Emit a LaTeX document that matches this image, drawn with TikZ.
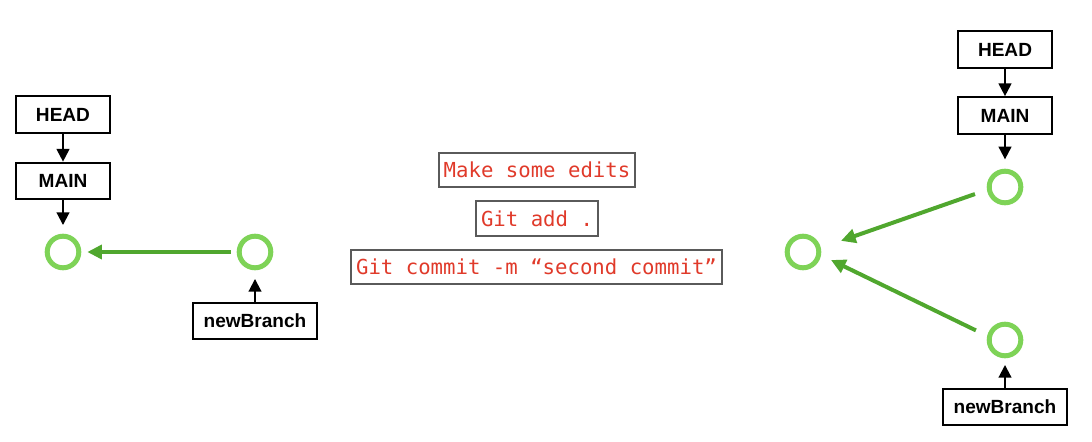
\documentclass[tikz,border=0pt]{standalone}
\usepackage{fontspec}
\usepackage{xcolor}
\usepackage{tikz}
\usetikzlibrary{arrows.meta}
\newfontfamily\labelfont{Liberation Sans}
\newfontfamily\cmdfont{DejaVu Sans Mono}
\definecolor{ringgreen}{RGB}{126,211,87}
\definecolor{linkgreen}{RGB}{80,167,46}
\definecolor{cmdred}{RGB}{224,58,42}
\definecolor{framegray}{RGB}{90,90,90}

\begin{document}
\begin{tikzpicture}[x=0.75pt,y=-0.75pt,
    ref/.style={draw,line width=1.5pt,inner sep=0pt,minimum width=70.5pt,minimum height=27.5pt,font=\labelfont\bfseries\fontsize{14.3}{16}\selectfont},
    commit/.style={circle,draw=ringgreen,line width=3.75pt,inner sep=0pt,minimum size=23.7pt},
    cmd/.style={draw=framegray,line width=1.5pt,inner xsep=3.6pt,inner ysep=0pt,minimum height=26pt,text=cmdred,font=\cmdfont\fontsize{15.5}{17}\selectfont},
    ptr/.style={-{Triangle[length=9.5pt,width=9.5pt]},line width=1.5pt},
    link/.style={-{Triangle[length=11pt,width=10.5pt]},linkgreen,line width=3pt}]
  \useasboundingbox (0,0) rectangle (1092,442);
  % before the commit
  \node[ref] (headA) at (63,114.5) {HEAD};
  \node[ref] (mainA) at (63,181) {MAIN};
  \node[commit] (firstA) at (63,252) {};
  \node[commit] (secondA) at (255,252) {};
  \node[ref,minimum width=93pt] (branchA) at (255,321) {newBranch};
  \draw[ptr] (headA) -- (mainA);
  \draw[ptr,shorten >=6.5pt] (mainA) -- (firstA);
  \draw[ptr,shorten >=6.5pt] (branchA) -- (secondA);
  \draw[link,shorten <=4.5pt,shorten >=4.5pt] (secondA) -- (firstA);
  % the commands
  \node[cmd] (edits) at (537,170) {Make some edits};
  \node[cmd] (add) at (537,218.5) {Git add .};
  \node[cmd] (commitcmd) at (536.5,267) {Git commit -m “second commit”};
  % after the commit
  \node[ref] (headB) at (1005,49.5) {HEAD};
  \node[ref] (mainB) at (1005,115.5) {MAIN};
  \node[commit] (topB) at (1005,187) {};
  \node[commit] (rootB) at (803,252) {};
  \node[commit] (lowB) at (1005,340) {};
  \node[ref,minimum width=93pt] (branchB) at (1005,407) {newBranch};
  \draw[ptr] (headB) -- (mainB);
  \draw[ptr,shorten >=7pt] (mainB) -- (topB);
  \draw[ptr,shorten >=5pt] (branchB) -- (lowB);
  \draw[link,shorten <=9.5pt,shorten >=16pt] (topB.189) -- (rootB.13);
  \draw[link,shorten <=9.4pt,shorten >=8.3pt] (lowB.167) -- (rootB.350);
\end{tikzpicture}
\end{document}
